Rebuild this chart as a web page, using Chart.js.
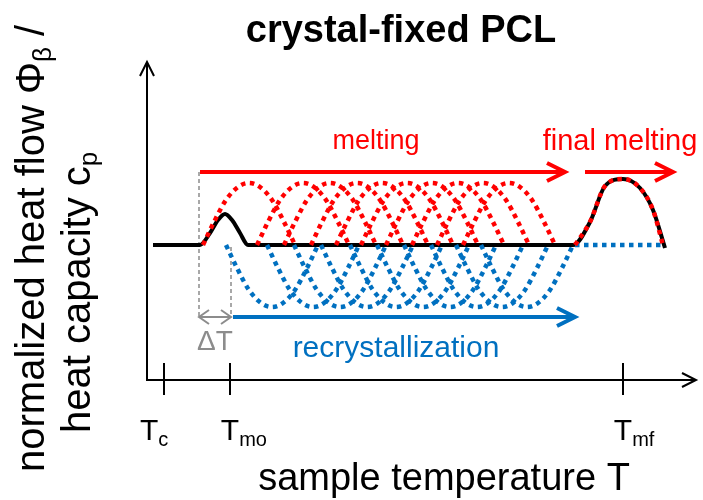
<!DOCTYPE html>
<html><head><meta charset="utf-8">
<script src="https://cdn.jsdelivr.net/npm/chart.js@4.4.1/dist/chart.umd.min.js"></script>
<style>html,body{margin:0;padding:0;background:#fff}#wrap{width:703px;height:500px}</style>
</head><body><div id="wrap"><canvas id="c" width="703" height="500"></canvas></div>
<script>
// ---- texts ----
const titleText = 'crystal-fixed PCL';
const xAxisLabel = 'sample temperature T';
const yLabelLine1 = ['normalized heat flow Φ', 'β', ' /'];
const yLabelLine2 = ['heat capacity c', 'p'];
const tickMain = ['T', 'T', 'T'];
const tickSubs = ['c', 'mo', 'mf'];
const meltText = 'melting';
const finalMeltText = 'final melting';
const recrystText = 'recrystallization';
const deltaText = 'ΔT';

// ---- values (temperature T, heat flow F; arbitrary units) ----
const tickTemps = [17, 83, 476];          // Tc, Tmo, Tmf
const baseF = 135;                          // baseline heat flow
const blackT = [6, 53, 63, 71, 78, 85, 93, 101, 426, 443, 458, 476, 493, 506, 518];
const blackF = [135, 135, 147, 160, 166, 160, 147, 135, 135, 158, 194, 201, 192, 170, 132];
const humpDT = [-46, -35, -23, -11, 0, 11, 23, 35, 46];
const humpDF = [0, 23, 45, 58, 62, 58, 45, 23, 0];
const redPeakT = [102, 156, 183, 210, 235, 260, 285, 311, 336, 362];
const blueTroughT = [125, 166, 193, 220, 249, 276, 303, 330, 355, 380];
const finalRedT = [428, 443, 458, 476, 493, 506, 516];
const finalRedF = [135, 158, 194, 201, 192, 170, 135];
const blueFlatT = [428, 518];
const arrowMeltT = [53, 418];
const arrowFinalT = [438, 526];
const arrowRecT = [86, 428];
const arrowMeltF = 208;
const arrowRecF = 63;
const deltaT = [52, 84];

const RED = '#ff0000', BLUE = '#0070c0', GRAY = '#8c8c8c';
const FONT = '"Liberation Sans", Arial, sans-serif';

function pts(ts, fs) { return ts.map((t, i) => ({x: t, y: fs[i]})); }
function hump(center, sign) {
  return humpDT.map((d, i) => ({x: center + d, y: baseF + sign * humpDF[i]}));
}

const dotted = {borderWidth: 4.5, borderDash: [4.5, 4.5], borderCapStyle: 'butt', pointRadius: 0,
  showLine: true, fill: false, cubicInterpolationMode: 'monotone', order: 1};

const datasets = [];
datasets.push({data: pts(blackT, blackF), borderColor: '#000', borderWidth: 4, pointRadius: 0,
  showLine: true, fill: false, cubicInterpolationMode: 'monotone', order: 3});
redPeakT.forEach(c => datasets.push(Object.assign({}, dotted, {data: hump(c, 1), borderColor: RED})));
blueTroughT.forEach(c => datasets.push(Object.assign({}, dotted, {data: hump(c, -1), borderColor: BLUE})));
datasets.push(Object.assign({}, dotted, {data: pts(finalRedT, finalRedF), borderColor: RED}));
datasets.push(Object.assign({}, dotted, {data: blueFlatT.map(t => ({x: t, y: baseF})), borderColor: BLUE}));

function line(ctx, x1, y1, x2, y2) { ctx.beginPath(); ctx.moveTo(x1, y1); ctx.lineTo(x2, y2); ctx.stroke(); }
function chevron(ctx, x, y, dir, len, half) {
  ctx.beginPath(); ctx.moveTo(x - dir * len, y - half); ctx.lineTo(x, y); ctx.lineTo(x - dir * len, y + half); ctx.stroke();
}
function richText(ctx, x, y, parts, big, small, subDy) {
  ctx.textAlign = 'left'; ctx.textBaseline = 'alphabetic';
  ctx.font = big + 'px ' + FONT; const w0 = ctx.measureText(parts[0]).width;
  ctx.fillText(parts[0], x, y);
  ctx.font = small + 'px ' + FONT; const w1 = parts[1] ? ctx.measureText(parts[1]).width : 0;
  if (parts[1]) ctx.fillText(parts[1], x + w0, y + subDy);
  if (parts[2]) { ctx.font = big + 'px ' + FONT; ctx.fillText(parts[2], x + w0 + w1, y); }
}

const deco = {
  id: 'deco',
  beforeDatasetsDraw(chart) {
    const ctx = chart.ctx, X = chart.scales.x, Y = chart.scales.y;
    const px = v => X.getPixelForValue(v), py = v => Y.getPixelForValue(v);
    ctx.save();
    ctx.strokeStyle = '#000'; ctx.lineWidth = 2; ctx.lineCap = 'butt';
    const x0 = px(0), y0 = py(0);
    line(ctx, x0, y0 + 1, x0, py(318));
    ctx.beginPath(); ctx.moveTo(x0 - 7, py(318) + 14); ctx.lineTo(x0, py(318)); ctx.lineTo(x0 + 7, py(318) + 14); ctx.stroke();
    line(ctx, x0 - 1, y0, px(549), y0);
    chevron(ctx, px(549), y0, 1, 14, 7);
    tickTemps.forEach(t => line(ctx, px(t), py(17), px(t), py(-15)));
    // dashed guides
    ctx.strokeStyle = GRAY; ctx.lineWidth = 1.5; ctx.setLineDash([4, 3]);
    line(ctx, px(deltaT[0]), py(arrowMeltF), px(deltaT[0]), py(arrowRecF));
    line(ctx, px(deltaT[1]), py(baseF - 2), px(deltaT[1]), py(arrowRecF));
    ctx.setLineDash([]);
    ctx.restore();
  },
  afterDatasetsDraw(chart) {
    const ctx = chart.ctx, X = chart.scales.x, Y = chart.scales.y;
    const px = v => X.getPixelForValue(v), py = v => Y.getPixelForValue(v);
    ctx.save();
    ctx.lineCap = 'butt'; ctx.lineJoin = 'miter';
    // red arrows
    ctx.strokeStyle = RED; ctx.lineWidth = 4;
    line(ctx, px(arrowMeltT[0]), py(arrowMeltF), px(arrowMeltT[1]) - 2, py(arrowMeltF));
    chevron(ctx, px(arrowMeltT[1]), py(arrowMeltF), 1, 18, 9);
    line(ctx, px(arrowFinalT[0]), py(arrowMeltF), px(arrowFinalT[1]) - 2, py(arrowMeltF));
    chevron(ctx, px(arrowFinalT[1]), py(arrowMeltF), 1, 18, 9);
    // blue arrow
    ctx.strokeStyle = BLUE;
    line(ctx, px(arrowRecT[0]), py(arrowRecF), px(arrowRecT[1]) - 2, py(arrowRecF));
    chevron(ctx, px(arrowRecT[1]), py(arrowRecF), 1, 18, 9);
    // delta T double arrow
    ctx.strokeStyle = GRAY; ctx.lineWidth = 2;
    line(ctx, px(deltaT[0]), py(arrowRecF), px(deltaT[1]), py(arrowRecF));
    chevron(ctx, px(deltaT[1]), py(arrowRecF), 1, 10, 7);
    chevron(ctx, px(deltaT[0]), py(arrowRecF), -1, 10, 7);

    // texts
    ctx.textAlign = 'center'; ctx.textBaseline = 'alphabetic';
    ctx.fillStyle = '#000'; ctx.font = 'bold 38px ' + FONT;
    ctx.fillText(titleText, 401, 42);
    ctx.font = '38px ' + FONT;
    ctx.fillText(xAxisLabel, 444, 490);
    ctx.fillStyle = RED; ctx.font = '27px ' + FONT;
    ctx.fillText(meltText, px(229), 149);
    ctx.font = '29px ' + FONT;
    ctx.fillText(finalMeltText, px(473), 150);
    ctx.fillStyle = BLUE; ctx.font = '30px ' + FONT;
    ctx.fillText(recrystText, px(249), 357);
    ctx.fillStyle = GRAY; ctx.font = '28px ' + FONT;
    ctx.fillText(deltaText, px(68), 350);

    // tick labels
    ctx.fillStyle = '#000';
    const shifts = [-24, 0, 0];
    tickTemps.forEach((t, i) => {
      ctx.font = '30px ' + FONT;
      const wT = ctx.measureText(tickMain[i]).width;
      const x = shifts[i] ? px(t) + shifts[i] : px(t) - wT / 2;
      richText(ctx, x, 440, [tickMain[i], tickSubs[i]], 30, 20, 6);
    });

    // y axis label (rotated)
    ctx.fillStyle = '#000';
    ctx.save(); ctx.translate(44, 472); ctx.rotate(-Math.PI / 2);
    richText(ctx, 0, 0, yLabelLine1, 40, 26, 7);
    ctx.restore();
    ctx.save(); ctx.translate(90, 433); ctx.rotate(-Math.PI / 2);
    richText(ctx, 0, 0, yLabelLine2, 40, 26, 7);
    ctx.restore();
    ctx.restore();
  }
};

new Chart(document.getElementById('c'), {
  type: 'scatter',
  data: {datasets},
  options: {
    responsive: false, animation: false, devicePixelRatio: 1,
    layout: {padding: 0},
    plugins: {legend: {display: false}, tooltip: {enabled: false}, title: {display: false}},
    scales: {
      x: {type: 'linear', display: false, min: -147, max: 556},
      y: {type: 'linear', display: false, min: -120, max: 380}
    }
  },
  plugins: [deco]
});
</script></body></html>
